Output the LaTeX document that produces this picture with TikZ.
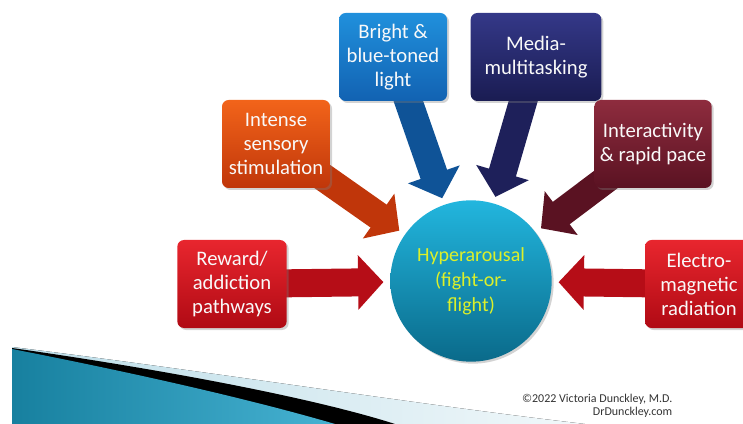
\documentclass[tikz,border=0pt]{standalone}
\usepackage{fontspec}
\setmainfont{Carlito}
\usetikzlibrary{arrows.meta,shadows,backgrounds}

\definecolor{redtop}{HTML}{E8262E}
\definecolor{redbot}{HTML}{B00A14}
\definecolor{orgtop}{HTML}{F2641A}
\definecolor{orgbot}{HTML}{C0360A}
\definecolor{blutop}{HTML}{2090DC}
\definecolor{blubot}{HTML}{1262B2}
\definecolor{navtop}{HTML}{343888}
\definecolor{navbot}{HTML}{1A1C52}
\definecolor{martop}{HTML}{8E2C3E}
\definecolor{marbot}{HTML}{5A1222}
\definecolor{hyptop}{HTML}{22B6DE}
\definecolor{hypbot}{HTML}{0A6A8A}
\definecolor{hyptext}{HTML}{DCF02A}
\definecolor{tealdark}{HTML}{17809F}
\definecolor{teallight}{HTML}{46B2D2}
\definecolor{swlight}{HTML}{BCDDE8}

\tikzset{
  cause/.style 2 args={rounded corners=5pt, minimum height=66pt, inner sep=2pt,
    align=center, text=white!95!gray, font=\fontsize{15.5}{18}\selectfont,
    top color=#1, bottom color=#2,
    drop shadow={opacity=0.35, shadow xshift=1.5pt, shadow yshift=-1.5pt}},
  push/.style={line width=21pt, draw=#1, shorten >=5pt,
    -{Triangle[length=19pt,width=40pt]}}
}

\begin{document}
\begin{tikzpicture}[x=0.75pt, y=-0.75pt]
  \path[use as bounding box, clip] (0,0) rectangle (743,424);

  % centre and the six causes
  \node[circle, minimum size=121pt, top color=hyptop, bottom color=hypbot,
    text=hyptext, align=center, font=\fontsize{15}{18.75}\selectfont,
    drop shadow={opacity=0.35, shadow xshift=1.5pt, shadow yshift=-1.5pt}]
    (hyp) at (471,281) {Hyperarousal\\(fight-or-\\flight)};
  \node[cause={redtop}{redbot}, minimum width=82pt] (rew) at (232,284)
    {Reward/\\addiction\\pathways};
  \node[cause={orgtop}{orgbot}, minimum width=81pt] (sens) at (276,144)
    {Intense\\sensory\\stimulation};
  \node[cause={blutop}{blubot}, minimum width=81pt] (light) at (393,57)
    {Bright \&\\blue-toned\\light};
  \node[cause={navtop}{navbot}, minimum width=98pt] (media) at (536,57)
    {Media-\\multitasking};
  \node[cause={martop}{marbot}, minimum width=88pt] (pace) at (653,144)
    {Interactivity\\\& rapid pace};
  \node[cause={redtop}{redbot}, minimum width=81pt] (emr) at (699,284)
    {Electro-\\magnetic\\radiation};

  \node[anchor=east, align=right, text=black!80, font=\fontsize{9}{10}\selectfont]
    (credit) at (677,406) {\textcopyright2022 Victoria Dunckley, M.D.\\DrDunckley.com};

  \begin{scope}[on background layer]
    % swoosh bottom left
    \fill[left color=swlight, right color=swlight!20] (12,347) .. controls (200,370) and (420,405) .. (585,424) -- (12,424) -- cycle;
    \fill[black] (12,348) .. controls (180,372) and (320,400) .. (395,424) -- (12,424) -- cycle;
    \shade[left color=tealdark, right color=teallight] (12,349) .. controls (150,376) and (260,402) .. (335,424) -- (12,424) -- cycle;

    \draw[push=redbot!90!redtop] (rew.center) -- (hyp);
    \draw[push=orgbot] (sens.center) -- (hyp);
    \draw[push=blubot!85!black] (light.center) -- (hyp);
    \draw[push=navbot!85!navtop] (media.center) -- (hyp);
    \draw[push=marbot] (pace.center) -- (hyp);
    \draw[push=redbot!90!redtop] (emr.center) -- (hyp);
  \end{scope}
\end{tikzpicture}
\end{document}
